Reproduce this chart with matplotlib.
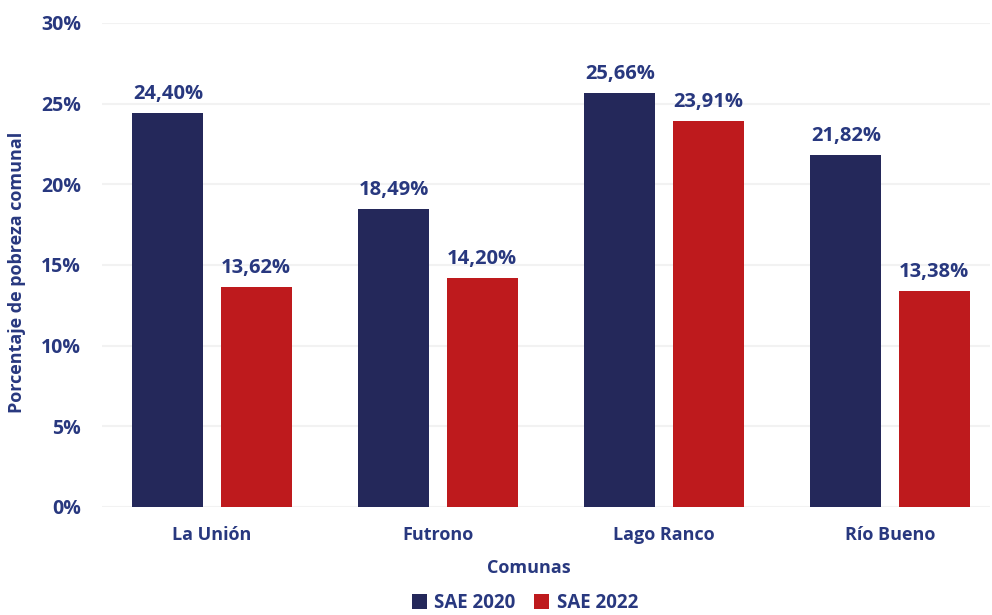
import matplotlib
matplotlib.use("Agg")
import matplotlib.pyplot as plt
import numpy as np
from matplotlib.patches import Patch

comunas = ["La Unión", "Futrono", "Lago Ranco", "Río Bueno"]
sae_2020 = [24.40, 18.49, 25.66, 21.82]
sae_2022 = [13.62, 14.20, 23.91, 13.38]
series_names = ["SAE 2020", "SAE 2022"]
y_ticks = [0, 5, 10, 15, 20, 25, 30]

navy = "#24285A"
red = "#BE1A1D"
text_col = "#28387F"

plt.rcParams["font.family"] = ["Open Sans", "DejaVu Sans"]

fig = plt.figure(figsize=(9.92, 6.15), dpi=100)
W, H = 992, 615
ax_left, ax_right, ax_top, ax_bottom = 102, 990, 23, 507
ax = fig.add_axes([ax_left / W, 1 - ax_bottom / H,
                   (ax_right - ax_left) / W, (ax_bottom - ax_top) / H])

x = np.arange(len(comunas))
bw = 0.314
off = 0.195
b1 = ax.bar(x - off, sae_2020, bw, color=navy, zorder=3)
b2 = ax.bar(x + off, sae_2022, bw, color=red, zorder=3)

for bars, vals in ((b1, sae_2020), (b2, sae_2022)):
    for rect, v in zip(bars, vals):
        ax.text(rect.get_x() + rect.get_width() / 2, v + 0.55,
                f"{v:.2f}".replace(".", ",") + "%",
                ha="center", va="bottom", fontsize=14.5, fontweight="bold",
                color=text_col)

# group centres spaced 226 px apart, first one at 212 px
x0 = -(212 - ax_left) / 226
ax.set_xlim(x0, x0 + (ax_right - ax_left) / 226)
ax.set_ylim(0, 30)
ax.set_yticks(y_ticks)
ax.set_yticklabels([f"{t}%" for t in y_ticks], fontsize=14,
                   fontweight="bold", color=text_col)
ax.set_xticks(x)
ax.set_xticklabels(comunas, fontsize=13, fontweight="bold", color=text_col)
ax.tick_params(axis="both", length=0)
ax.tick_params(axis="y", pad=15)
ax.tick_params(axis="x", pad=14)
ax.grid(axis="y", color="#F2F2F2", linewidth=1.5, zorder=0)
for s in ax.spines.values():
    s.set_visible(False)

fig.text(17 / W, 1 - 272 / H, "Porcentaje de pobreza comunal", rotation=90,
         ha="center", va="center", fontsize=13, fontweight="bold", color=text_col)
fig.text(529 / W, 1 - 568 / H, "Comunas", ha="center", va="center",
         fontsize=13, fontweight="bold", color=text_col)

handles = [Patch(facecolor=navy), Patch(facecolor=red)]
leg = fig.legend(handles, series_names, loc="center",
                 bbox_to_anchor=(525 / W, 1 - 603 / H),
                 ncol=2, frameon=False, handlelength=0.8, handleheight=0.8,
                 handletextpad=0.4, columnspacing=1.0, borderpad=0.1,
                 prop={"weight": "bold", "size": 13.5})
for t in leg.get_texts():
    t.set_color(text_col)

fig.savefig("out.png", dpi=100)
